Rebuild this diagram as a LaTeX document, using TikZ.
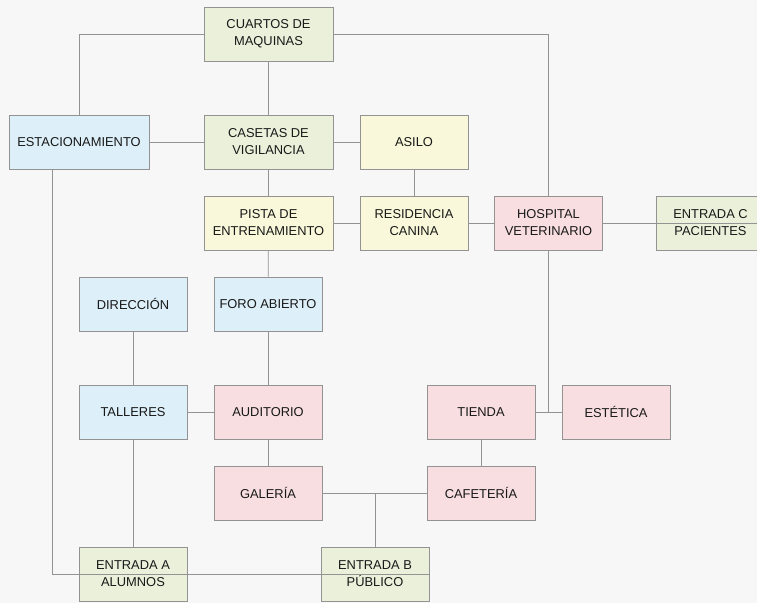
\documentclass[tikz,border=0pt]{standalone}
\usepackage{fontspec}
\setmainfont{Liberation Sans}
\definecolor{areaA}{HTML}{DDEFF8}
\definecolor{areaB}{HTML}{EAF0DA}
\definecolor{areaC}{HTML}{F9F8DA}
\definecolor{areaD}{HTML}{F8DEE0}
\definecolor{frameline}{HTML}{939393}
\definecolor{paper}{HTML}{F7F7F7}

\begin{document}
\begin{tikzpicture}[x=0.03cm,y=-0.03cm,font=\fontsize{11}{14.5}\selectfont,text=black!90,
 box/.style={draw=frameline,line width=0.7pt,align=center,inner sep=2pt,minimum width=3.24cm,minimum height=1.62cm},
 wide/.style={box,minimum width=3.87cm},
 link/.style={draw=frameline,line width=0.6pt}]
\clip (0,0) rectangle (757,603);
\fill[paper] (0,0) rectangle (757,603);
% top block
\node[wide,fill=areaB] (cuartos) at (268.5,34) {CUARTOS DE\\MAQUINAS};
\node[box,fill=areaA,minimum width=4.2cm] (estac) at (79,142) {ESTACIONAMIENTO};
\node[wide,fill=areaB] (casetas) at (268.5,142) {CASETAS DE\\VIGILANCIA};
\node[box,fill=areaC] (asilo) at (414,142) {ASILO};
\node[wide,fill=areaC] (pista) at (268.5,223) {PISTA DE\\ENTRENAMIENTO};
\node[box,fill=areaC] (resid) at (414,223) {RESIDENCIA\\CANINA};
\node[box,fill=areaD] (hosp) at (548.5,223) {HOSPITAL\\VETERINARIO};
\node[box,fill=areaB] (entC) at (710.5,223) {ENTRADA C\\PACIENTES};
% lower block
\node[box,fill=areaA] (direc) at (133,304) {DIRECCIÓN};
\node[box,fill=areaA] (foro) at (268,304) {FORO ABIERTO};
\node[box,fill=areaA] (talleres) at (133,412) {TALLERES};
\node[box,fill=areaD] (audit) at (268,412) {AUDITORIO};
\node[box,fill=areaD] (galeria) at (268,493) {GALERÍA};
\node[box,fill=areaD] (tienda) at (481,412) {TIENDA};
\node[box,fill=areaD] (estetica) at (616,412) {ESTÉTICA};
\node[box,fill=areaD] (cafe) at (481,493) {CAFETERÍA};
\node[box,fill=areaB] (entA) at (133,574) {ENTRADA A\\ALUMNOS};
\node[box,fill=areaB] (entB) at (375,574) {ENTRADA B\\PÚBLICO};
\draw[link] (cuartos.west) -| (estac.north);
\draw[link] (cuartos.east) -| (hosp.north);
\draw[link] (cuartos) -- (casetas);
\draw[link] (estac) -- (casetas);
\draw[link] (casetas) -- (asilo);
\draw[link] (casetas) -- (pista);
\draw[link] (asilo) -- (resid);
\draw[link] (pista) -- (resid);
\draw[link] (resid) -- (hosp);
\draw[link] (hosp.east) -- (entC.east);
\draw[link] (pista) -- (foro);
\draw[link] (foro) -- (audit);
\draw[link] (direc) -- (talleres);
\draw[link] (talleres) -- (audit);
\draw[link] (talleres) -- (entA);
\draw[link] (audit) -- (galeria);
\draw[link] (galeria) -- (cafe);
\draw[link] (entB.north) -- (entB.north |- galeria.east);
\draw[link] (tienda) -- (cafe);
\draw[link] (tienda) -- (estetica);
\draw[link] (hosp.south) -- (hosp.south |- tienda.east);
\draw[link] (estac.south) ++(-27,0) |- (entA.west);
\draw[link] (entA.west) -- (entB.east);
\end{tikzpicture}
\end{document}
